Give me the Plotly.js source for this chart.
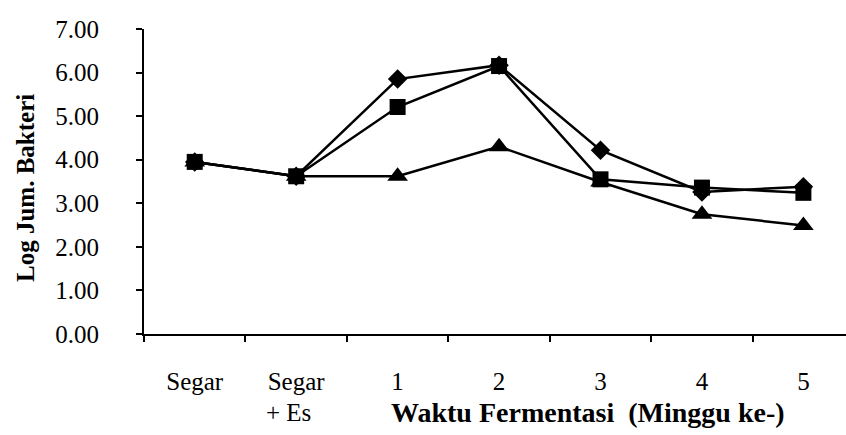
<!DOCTYPE html>
<html>
<head>
<meta charset="utf-8">
<script src="https://cdn.plot.ly/plotly-3.0.1.min.js"></script>
<style>html,body{margin:0;padding:0;background:#fff;}#chart{width:846px;height:435px;}</style>
</head>
<body>
<div id="chart"></div>
<script>
// Data
var categories = ["Segar", "Segar + Es", "1", "2", "3", "4", "5"];
var tickLabels = ["Segar", "Segar", "1", "2", "3", "4", "5"];
var seriesDiamond = [3.95, 3.62, 5.85, 6.17, 4.22, 3.26, 3.38];
var seriesSquare = [3.95, 3.62, 5.21, 6.15, 3.55, 3.36, 3.24];
var seriesTriangle = [3.95, 3.62, 3.62, 4.30, 3.49, 2.75, 2.49];
var yTitle = "Log Jum. Bakteri";
var xTitle = "Waktu Fermentasi&nbsp;&nbsp;(Minggu ke-)";
var secondLine = "+ Es";

var FONT = "Liberation Serif";

function mk(y, sym, size) {
  return {
    x: categories, y: y, type: "scatter", mode: "lines+markers",
    line: {color: "#000", width: 2.5},
    marker: {symbol: sym, size: size, color: "#000", line: {width: 0}},
    showlegend: false, cliponaxis: false, hoverinfo: "skip"
  };
}

var data = [
  mk(seriesDiamond, "diamond", 15),
  mk(seriesTriangle, "triangle-up", 18),
  mk(seriesSquare, "square", 16)
];

var layout = {
  width: 846, height: 435,
  margin: {l: 144, r: 0, t: 29, b: 101, pad: 0},
  paper_bgcolor: "#fff", plot_bgcolor: "#fff",
  font: {family: FONT, color: "#000", size: 25},
  xaxis: {
    type: "category", range: [-0.5, 6.42],
    tickmode: "array", tickvals: categories, ticktext: tickLabels,
    tickson: "boundaries", ticks: "outside", ticklen: 6, tickwidth: 2, tickcolor: "#000",
    showline: true, linewidth: 2, linecolor: "#000", showgrid: false, zeroline: false,
    ticklabelstandoff: 24, tickfont: {family: FONT, size: 25, color: "#000"}
  },
  yaxis: {
    range: [0, 7], dtick: 1, tick0: 0, tickformat: ".2f",
    ticks: "outside", ticklen: 6, tickwidth: 2, tickcolor: "#000",
    showline: true, linewidth: 2, linecolor: "#000", showgrid: false, zeroline: false,
    ticklabelstandoff: 32, tickfont: {family: FONT, size: 25, color: "#000"}
  },
  annotations: [
    {text: yTitle, xref: "paper", yref: "paper", x: -0.169, y: 0.48, xanchor: "center", yanchor: "middle",
     textangle: -90, showarrow: false, font: {family: FONT, size: 25, weight: "bold", color: "#000"}},
    {text: xTitle, xref: "paper", yref: "paper", x: 0.632, y: -0.256, xanchor: "center", yanchor: "middle",
     showarrow: false, font: {family: FONT, size: 28, weight: "bold", color: "#000"}},
    {text: secondLine, xref: "x", yref: "paper", x: categories[1], y: -0.256, xanchor: "center", yanchor: "middle",
     xshift: -8, showarrow: false, font: {family: FONT, size: 25, color: "#000"}}
  ]
};

Plotly.newPlot("chart", data, layout, {staticPlot: true, displayModeBar: false});
</script>
</body>
</html>
